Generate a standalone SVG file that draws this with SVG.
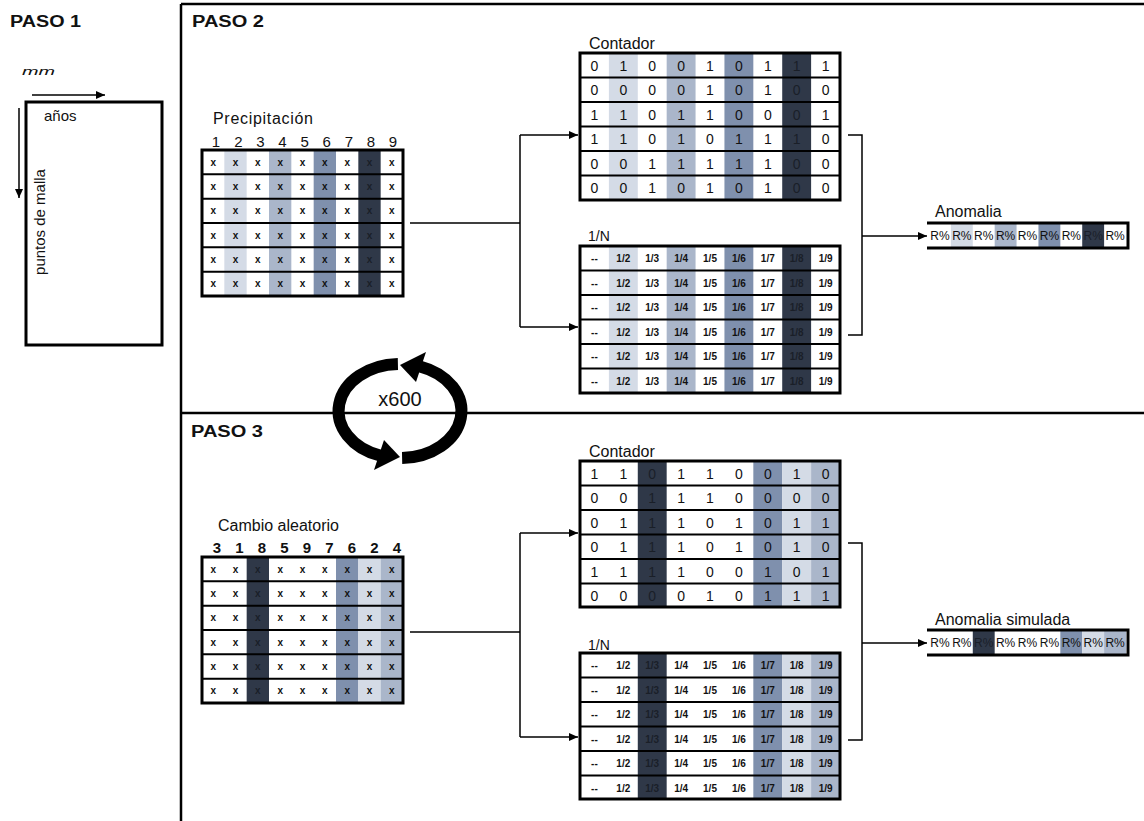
<svg xmlns="http://www.w3.org/2000/svg" xmlns:xlink="http://www.w3.org/1999/xlink" width="1144" height="821" viewBox="0 0 1144 821">
<style>
text{font-family:"Liberation Sans",Arial,sans-serif;fill:#111}
.step{font-size:16px;font-weight:bold}
.ttl{font-size:16px}
.hdr{font-size:15px}
.hdrb{font-size:15px;font-weight:bold}
.num{font-size:14px;text-anchor:middle}
.sm{font-size:10px;font-weight:bold;text-anchor:middle}
.pct{font-size:12px;text-anchor:middle}
.dk{fill:#1a1f28}
.bg{fill:#fff}
.l1{fill:#d4dbe6}
.l2{fill:#aab6ca}
.l3{fill:#7f90ad}
.l4{fill:#2f3848}
.frame{fill:none;stroke:#000;stroke-width:3}
.rl{stroke:#000;stroke-width:2}
.ln{stroke:#000;stroke-width:1.5;fill:none}
.axis{stroke:#000;stroke-width:1.5;fill:none}
.cyc{stroke:#000;stroke-width:12;fill:none}
</style>
<defs>
<marker id="ah" markerWidth="9" markerHeight="8" refX="9" refY="4" orient="auto" markerUnits="userSpaceOnUse"><path d="M0,0 L9,4 L0,8 z" fill="#000"/></marker>
<g id="xrow2"><text class="sm" x="11.2 33.5 55.8 78.2 100.5 122.8 145.2">xxxxxxx<tspan class="dk" x="167.5">x</tspan><tspan x="189.8">x</tspan></text></g>
<g id="xrow3"><text class="sm" x="11.2 33.5">xx<tspan class="dk" x="55.8">x</tspan><tspan x="78.2 100.5 122.8 145.2 167.5 189.8">xxxxxx</tspan></text></g>
<g id="nrow2"><text class="sm"><tspan x="14.4">--</tspan><tspan x="43.3">1/2</tspan><tspan x="72.2">1/3</tspan><tspan x="101.1">1/4</tspan><tspan x="130">1/5</tspan><tspan x="158.9">1/6</tspan><tspan x="187.8">1/7</tspan><tspan x="216.7" class="dk">1/8</tspan><tspan x="245.6">1/9</tspan></text></g>
<g id="nrow3"><text class="sm"><tspan x="14.4">--</tspan><tspan x="43.3">1/2</tspan><tspan x="72.2" class="dk">1/3</tspan><tspan x="101.1">1/4</tspan><tspan x="130">1/5</tspan><tspan x="158.9">1/6</tspan><tspan x="187.8">1/7</tspan><tspan x="216.7">1/8</tspan><tspan x="245.6">1/9</tspan></text></g>
<g id="rlines6a"><path class="rl" d="M0,24.33H201M0,48.67H201M0,73H201M0,97.33H201M0,121.67H201"/></g>
<g id="rlines6b"><path class="rl" d="M0,24.5H260M0,49H260M0,73.5H260M0,98H260M0,122.5H260"/></g>
</defs>

<!-- frame -->
<g id="frame">
<path d="M181,4H1144M181,4V821M181,413H1144" stroke="#000" stroke-width="2.5" fill="none"/>
<text class="step" x="10" y="27" textLength="71" lengthAdjust="spacingAndGlyphs">PASO 1</text>
<text class="step" x="192" y="27" textLength="72" lengthAdjust="spacingAndGlyphs">PASO 2</text>
<text class="step" x="191" y="437" textLength="72" lengthAdjust="spacingAndGlyphs">PASO 3</text>
</g>

<!-- PASO 1 -->
<g id="paso1">
<text x="22" y="75" font-size="11" font-style="italic" textLength="33" lengthAdjust="spacingAndGlyphs">mm</text>
<rect x="26" y="102" width="136" height="243" class="frame"/>
<line x1="32" y1="95" x2="105" y2="95" class="axis" marker-end="url(#ah)"/>
<line x1="19" y1="108" x2="19" y2="198" class="axis" marker-end="url(#ah)"/>
<text x="44" y="121" font-size="15">años</text>
<text transform="translate(45,222) rotate(-90)" font-size="15" text-anchor="middle">puntos de malla</text>
</g>

<!-- PASO 2: Precipitacion -->
<g id="precipitacion">
<text class="ttl" x="213" y="124" textLength="100" lengthAdjust="spacing">Precipitación</text>
<text class="hdr" text-anchor="middle" x="216 238.3 260.4 282.5 304.6 326.7 348.8 370.9 393" y="147">123456789</text>
<g transform="translate(202,150)">
<rect width="201" height="146" class="bg"/>
<rect x="22.33" width="22.33" height="146" class="l1"/>
<rect x="67" width="22.33" height="146" class="l2"/>
<rect x="111.67" width="22.33" height="146" class="l3"/>
<rect x="156.33" width="22.33" height="146" class="l4"/>
<use xlink:href="#rlines6a"/>
<use xlink:href="#xrow2" y="15.5"/>
<use xlink:href="#xrow2" y="39.8"/>
<use xlink:href="#xrow2" y="64.2"/>
<use xlink:href="#xrow2" y="88.5"/>
<use xlink:href="#xrow2" y="112.8"/>
<use xlink:href="#xrow2" y="137.2"/>
<rect width="201" height="146" class="frame"/>
</g>
</g>

<!-- PASO 2: Contador -->
<g id="contador2">
<text class="ttl" x="589" y="49">Contador</text>
<g transform="translate(580,53)">
<rect width="260" height="147" class="bg"/>
<rect x="28.89" width="28.89" height="147" class="l1"/>
<rect x="86.67" width="28.89" height="147" class="l2"/>
<rect x="144.44" width="28.89" height="147" class="l3"/>
<rect x="202.22" width="28.89" height="147" class="l4"/>
<use xlink:href="#rlines6b"/>
<text class="num" y="17.5" x="14.4 43.3 72.2 101.1 130 158.9 187.8">0100101<tspan class="dk" x="216.7">1</tspan><tspan x="245.6">1</tspan></text>
<text class="num" y="42" x="14.4 43.3 72.2 101.1 130 158.9 187.8">0000101<tspan class="dk" x="216.7">0</tspan><tspan x="245.6">0</tspan></text>
<text class="num" y="66.5" x="14.4 43.3 72.2 101.1 130 158.9 187.8">1101100<tspan class="dk" x="216.7">0</tspan><tspan x="245.6">1</tspan></text>
<text class="num" y="91" x="14.4 43.3 72.2 101.1 130 158.9 187.8">1101011<tspan class="dk" x="216.7">1</tspan><tspan x="245.6">0</tspan></text>
<text class="num" y="115.5" x="14.4 43.3 72.2 101.1 130 158.9 187.8">0011111<tspan class="dk" x="216.7">0</tspan><tspan x="245.6">0</tspan></text>
<text class="num" y="140" x="14.4 43.3 72.2 101.1 130 158.9 187.8">0010101<tspan class="dk" x="216.7">0</tspan><tspan x="245.6">0</tspan></text>
<rect width="260" height="147" class="frame"/>
</g>
</g>

<!-- PASO 2: 1/N -->
<g id="inv2">
<text x="588" y="241" font-size="14">1/N</text>
<g transform="translate(580,246)">
<rect width="260" height="147" class="bg"/>
<rect x="28.89" width="28.89" height="147" class="l1"/>
<rect x="86.67" width="28.89" height="147" class="l2"/>
<rect x="144.44" width="28.89" height="147" class="l3"/>
<rect x="202.22" width="28.89" height="147" class="l4"/>
<use xlink:href="#rlines6b"/>
<use xlink:href="#nrow2" y="16"/>
<use xlink:href="#nrow2" y="40.5"/>
<use xlink:href="#nrow2" y="65"/>
<use xlink:href="#nrow2" y="89.5"/>
<use xlink:href="#nrow2" y="114"/>
<use xlink:href="#nrow2" y="138.5"/>
<rect width="260" height="147" class="frame"/>
</g>
</g>

<!-- PASO 2: Anomalia -->
<g id="anomalia">
<text class="ttl" x="935" y="217">Anomalia</text>
<g transform="translate(929,224)">
<rect width="197" height="23" class="bg"/>
<rect x="21.89" width="21.89" height="23" class="l1"/>
<rect x="65.67" width="21.89" height="23" class="l2"/>
<rect x="109.44" width="21.89" height="23" class="l3"/>
<rect x="153.22" width="21.89" height="23" class="l4"/>
<text class="pct" y="16"><tspan x="10.9">R%</tspan><tspan x="32.8">R%</tspan><tspan x="54.7">R%</tspan><tspan x="76.6">R%</tspan><tspan x="98.5">R%</tspan><tspan x="120.4">R%</tspan><tspan x="142.3">R%</tspan><tspan x="164.2" class="dk">R%</tspan><tspan x="186.1">R%</tspan></text>
<path d="M-2,-1H199V24H-2" stroke="#000" stroke-width="3" fill="none"/>
</g>
</g>

<!-- PASO 3: Cambio aleatorio -->
<g id="cambio">
<text class="ttl" x="218" y="531">Cambio aleatorio</text>
<text class="hdrb" text-anchor="middle" x="217 239.5 262 284.5 307 329.5 352 374.5 397" y="553">318597624</text>
<g transform="translate(202,557)">
<rect width="201" height="146" class="bg"/>
<rect x="44.67" width="22.33" height="146" class="l4"/>
<rect x="134" width="22.33" height="146" class="l3"/>
<rect x="156.33" width="22.33" height="146" class="l1"/>
<rect x="178.67" width="22.33" height="146" class="l2"/>
<use xlink:href="#rlines6a"/>
<use xlink:href="#xrow3" y="15.5"/>
<use xlink:href="#xrow3" y="39.8"/>
<use xlink:href="#xrow3" y="64.2"/>
<use xlink:href="#xrow3" y="88.5"/>
<use xlink:href="#xrow3" y="112.8"/>
<use xlink:href="#xrow3" y="137.2"/>
<rect width="201" height="146" class="frame"/>
</g>
</g>

<!-- PASO 3: Contador -->
<g id="contador3">
<text class="ttl" x="589" y="457">Contador</text>
<g transform="translate(580,461)">
<rect width="260" height="146" class="bg"/>
<rect x="57.78" width="28.89" height="146" class="l4"/>
<rect x="173.33" width="28.89" height="146" class="l3"/>
<rect x="202.22" width="28.89" height="146" class="l1"/>
<rect x="231.11" width="28.89" height="146" class="l2"/>
<use xlink:href="#rlines6b"/>
<text class="num" y="17.5" x="14.4 43.3">11<tspan class="dk" x="72.2">0</tspan><tspan x="101.1 130 158.9 187.8 216.7 245.6">110010</tspan></text>
<text class="num" y="42" x="14.4 43.3">00<tspan class="dk" x="72.2">1</tspan><tspan x="101.1 130 158.9 187.8 216.7 245.6">110000</tspan></text>
<text class="num" y="66.5" x="14.4 43.3">01<tspan class="dk" x="72.2">1</tspan><tspan x="101.1 130 158.9 187.8 216.7 245.6">101011</tspan></text>
<text class="num" y="91" x="14.4 43.3">01<tspan class="dk" x="72.2">1</tspan><tspan x="101.1 130 158.9 187.8 216.7 245.6">101010</tspan></text>
<text class="num" y="115.5" x="14.4 43.3">11<tspan class="dk" x="72.2">1</tspan><tspan x="101.1 130 158.9 187.8 216.7 245.6">100101</tspan></text>
<text class="num" y="140" x="14.4 43.3">00<tspan class="dk" x="72.2">0</tspan><tspan x="101.1 130 158.9 187.8 216.7 245.6">010111</tspan></text>
<rect width="260" height="146" class="frame"/>
</g>
</g>

<!-- PASO 3: 1/N -->
<g id="inv3">
<text x="588" y="650" font-size="14">1/N</text>
<g transform="translate(580,653)">
<rect width="260" height="146" class="bg"/>
<rect x="57.78" width="28.89" height="146" class="l4"/>
<rect x="173.33" width="28.89" height="146" class="l3"/>
<rect x="202.22" width="28.89" height="146" class="l1"/>
<rect x="231.11" width="28.89" height="146" class="l2"/>
<use xlink:href="#rlines6b"/>
<use xlink:href="#nrow3" y="16"/>
<use xlink:href="#nrow3" y="40.5"/>
<use xlink:href="#nrow3" y="65"/>
<use xlink:href="#nrow3" y="89.5"/>
<use xlink:href="#nrow3" y="114"/>
<use xlink:href="#nrow3" y="138.5"/>
<rect width="260" height="146" class="frame"/>
</g>
</g>

<!-- PASO 3: Anomalia simulada -->
<g id="anomalia-simulada">
<text class="ttl" x="935" y="625">Anomalia simulada</text>
<g transform="translate(929,631)">
<rect width="197" height="23" class="bg"/>
<rect x="43.78" width="21.89" height="23" class="l4"/>
<rect x="131.33" width="21.89" height="23" class="l3"/>
<rect x="153.22" width="21.89" height="23" class="l1"/>
<rect x="175.11" width="21.89" height="23" class="l2"/>
<text class="pct" y="16"><tspan x="10.9">R%</tspan><tspan x="32.8">R%</tspan><tspan x="54.7" class="dk">R%</tspan><tspan x="76.6">R%</tspan><tspan x="98.5">R%</tspan><tspan x="120.4">R%</tspan><tspan x="142.3">R%</tspan><tspan x="164.2">R%</tspan><tspan x="186.1">R%</tspan></text>
<path d="M-2,-1H199V24H-2" stroke="#000" stroke-width="3" fill="none"/>
</g>
</g>

<!-- cycle x600 -->
<g id="ciclo">
<path class="cyc" d="M402.1,458 A61,47 0 0 0 420,366.5"/>
<polygon points="426,352 416,382 400,365" fill="#000"/>
<g transform="rotate(180 400 411)">
<path class="cyc" d="M402.1,458 A61,47 0 0 0 420,366.5"/>
<polygon points="426,352 416,382 400,365" fill="#000"/>
</g>
<text x="400" y="406" font-size="20" text-anchor="middle" fill="#333">x600</text>
</g>

<!-- connectors -->
<g id="connectors">
<path class="ln" d="M410,223H520M520,135V327"/>
<line class="ln" x1="520" y1="135" x2="578" y2="135" marker-end="url(#ah)"/>
<line class="ln" x1="520" y1="327" x2="578" y2="327" marker-end="url(#ah)"/>
<path class="ln" d="M848,135H862V335H848"/>
<line class="ln" x1="862" y1="236" x2="927" y2="236" marker-end="url(#ah)"/>
<path class="ln" d="M410,632H520M520,533V737"/>
<line class="ln" x1="520" y1="533" x2="578" y2="533" marker-end="url(#ah)"/>
<line class="ln" x1="520" y1="737" x2="578" y2="737" marker-end="url(#ah)"/>
<path class="ln" d="M848,543H862V740H848"/>
<line class="ln" x1="862" y1="643" x2="927" y2="643" marker-end="url(#ah)"/>
</g>
</svg>
